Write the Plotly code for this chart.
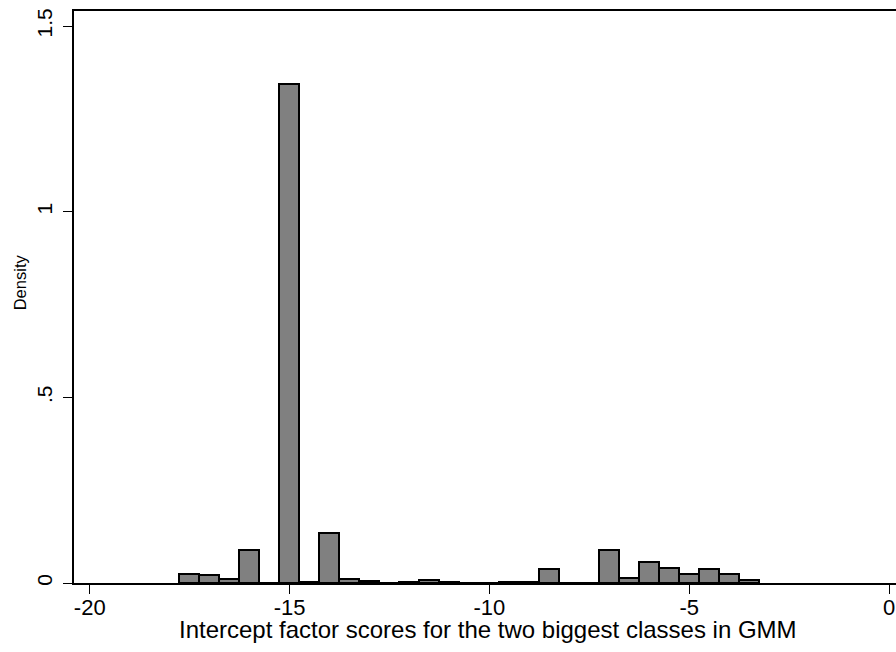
import plotly.graph_objects as go

# Histogram data (density per bin)
bin_start = -17.765
bin_width = 0.5
densities = [0.025, 0.021, 0.010, 0.088, 0.0, 1.344, 0.004, 0.136, 0.012, 0.005,
             0.0, 0.003, 0.009, 0.003, 0.0, 0.0, 0.003, 0.002, 0.039, 0.0,
             0.0, 0.088, 0.0145, 0.056, 0.041, 0.025, 0.037, 0.025, 0.008]
x_ticks = [-20, -15, -10, -5, 0]
x_tick_labels = ["-20", "-15", "-10", "-5", "0"]
y_ticks = [0, 0.5, 1, 1.5]
y_tick_labels = ["0", ".5", "1", "1.5"]
x_title = "Intercept factor scores for the two biggest classes in GMM"
y_title = "Density"

centers = [bin_start + bin_width * (i + 0.5) for i in range(len(densities))]

fig = go.Figure()
fig.add_trace(go.Bar(
    x=centers, y=densities, width=bin_width,
    marker=dict(color="#808080", line=dict(color="black", width=2)),
    showlegend=False,
))

font = "Liberation Sans, Arial, sans-serif"
fig.update_layout(
    width=896, height=652,
    margin=dict(l=74, r=0, t=11, b=69, autoexpand=False),
    paper_bgcolor="white", plot_bgcolor="white",
    font=dict(family=font, color="black"),
    bargap=0,
    xaxis=dict(
        range=[-20.393, 0.175], tickvals=x_ticks, ticktext=x_tick_labels,
        showgrid=False, zeroline=False, showline=True, linecolor="black", linewidth=1.5,
        mirror=True, ticks="outside", ticklen=9, tickwidth=1.2, tickcolor="black",
        tickfont=dict(size=22, family=font), automargin=False, ticklabelstandoff=-5,
    ),
    yaxis=dict(
        range=[0, 1.5405], tickvals=y_ticks, ticktext=y_tick_labels,
        showgrid=False, zeroline=False, showline=True, linecolor="black", linewidth=1.5,
        ticks="outside", ticklen=9, tickwidth=1.2, tickcolor="black", tickangle=-90,
        tickfont=dict(size=21, family=font), automargin=False, ticklabelstandoff=3,
    ),
    annotations=[
        dict(text=x_title, xref="paper", yref="paper", x=(487.5 - 74) / 822, y=0,
             yshift=-46, xanchor="center", yanchor="middle", showarrow=False,
             font=dict(size=24, family=font, color="black")),
        dict(text=y_title, xref="paper", yref="paper", x=0, y=(582.7 - 282) / 572,
             xshift=-54, xanchor="center", yanchor="middle", textangle=-90, showarrow=False,
             font=dict(size=16.5, family=font, color="black")),
    ],
)

fig.write_html("out.html", config={"displayModeBar": False},
               post_script="document.body.style.margin='0';")
